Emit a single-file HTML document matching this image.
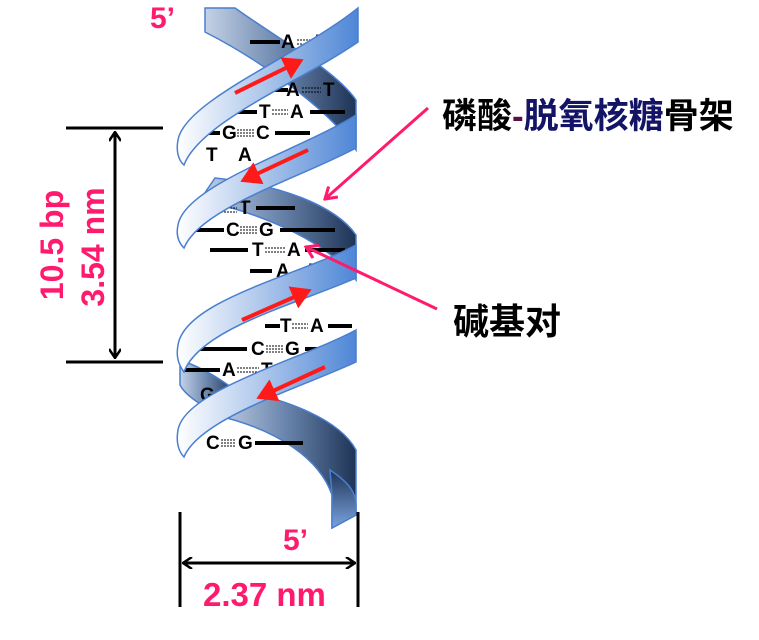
<!DOCTYPE html>
<html><head><meta charset="utf-8"><style>
html,body{margin:0;padding:0;background:#fff;width:759px;height:640px;overflow:hidden}
svg{display:block}
.b{font-family:"Liberation Sans",sans-serif;font-weight:bold;font-size:19px;fill:#000}
.p{font-family:"Liberation Sans",sans-serif;font-weight:bold;fill:#ff1a6e}
.c{font-family:"Liberation Sans","Noto Sans CJK SC",sans-serif;font-weight:bold}
</style></head><body>
<svg width="759" height="640" viewBox="0 0 759 640" xmlns="http://www.w3.org/2000/svg">
<defs>
<linearGradient id="lg" x1="0" x2="1" y1="0" y2="0">
<stop offset="0" stop-color="#ffffff"/><stop offset="0.5" stop-color="#a9c4ea"/><stop offset="1" stop-color="#4f86d6"/></linearGradient>
<linearGradient id="dg" x1="0" x2="1" y1="0" y2="0">
<stop offset="0" stop-color="#c4d2e6"/><stop offset="0.5" stop-color="#6a85ad"/><stop offset="1" stop-color="#1e3456"/></linearGradient>
<linearGradient id="tg" x1="0" x2="0" y1="0" y2="1">
<stop offset="0" stop-color="#1e3456"/><stop offset="1" stop-color="#7aa3dd"/></linearGradient>
<marker id="ra" markerWidth="6" markerHeight="6" refX="4" refY="3" orient="auto" markerUnits="strokeWidth"><path d="M0,0 L5,3 L0,6 Z" fill="#ff1a1a"/></marker>
<marker id="pa" markerWidth="14" markerHeight="16" refX="12" refY="8" orient="auto" markerUnits="userSpaceOnUse"><path d="M1,1 L12,8 L1,15" fill="none" stroke="#ff1a6e" stroke-width="3"/></marker>
<marker id="ka" markerWidth="12" markerHeight="12" refX="1" refY="6" orient="auto" markerUnits="userSpaceOnUse"><path d="M10,0 L1,6 L10,12" fill="none" stroke="#000" stroke-width="2.5"/></marker>
<marker id="kb" markerWidth="12" markerHeight="12" refX="11" refY="6" orient="auto" markerUnits="userSpaceOnUse"><path d="M2,0 L11,6 L2,12" fill="none" stroke="#000" stroke-width="2.5"/></marker>
</defs>

<!-- back (dark) bands -->
<g stroke="#4a7fcf" stroke-width="1.5">
<path d="M205,8 L235,8 C280,40 335,70 356,100 L356,150 C330,110 260,60 205,32 Z" fill="url(#dg)"/>
<path d="M215,178 C280,185 335,205 356,235 L356,280 C330,245 270,215 200,200 Z" fill="url(#dg)"/>
<path d="M180,360 C195,365 215,375 235,390 L220,415 C200,405 185,395 180,385 Z" fill="url(#dg)"/>
<path d="M230,388 C290,400 340,420 356,450 L356,515 L332,528 L332,495 C320,460 280,430 215,415 Z" fill="url(#dg)"/>
<path d="M330,470 C345,480 356,490 356,505 L356,515 L332,528 L332,495 Z" fill="url(#tg)"/>
</g>

<!-- base pairs -->
<g stroke="#000" stroke-width="4">
<line x1="250" y1="42" x2="280" y2="42"/>
<line x1="275" y1="90" x2="288" y2="90"/>
<line x1="225" y1="112" x2="257" y2="112"/><line x1="310" y1="112" x2="345" y2="112"/>
<line x1="190" y1="133" x2="220" y2="133"/><line x1="275" y1="133" x2="310" y2="133"/>
<line x1="256" y1="208" x2="295" y2="208"/>
<line x1="185" y1="230" x2="224" y2="230"/><line x1="280" y1="230" x2="335" y2="230"/>
<line x1="210" y1="250" x2="248" y2="250"/><line x1="305" y1="250" x2="345" y2="250"/>
<line x1="250" y1="271" x2="272" y2="271"/>
<line x1="265" y1="326" x2="280" y2="326"/><line x1="328" y1="326" x2="352" y2="326"/>
<line x1="200" y1="349" x2="247" y2="349"/><line x1="305" y1="349" x2="330" y2="349"/>
<line x1="185" y1="370" x2="220" y2="370"/><line x1="275" y1="370" x2="292" y2="370"/>
<line x1="255" y1="443" x2="303" y2="443"/>
</g>
<g class="b">
<text x="281" y="48">A</text><text x="316" y="48">T</text>
<text x="286" y="96">A</text><text x="323" y="96">T</text>
<text x="259" y="118">T</text><text x="290" y="118">A</text>
<text x="222" y="139">G</text><text x="256" y="139">C</text>
<text x="206" y="161">T</text><text x="238" y="161">A</text>
<text x="204" y="214">A</text><text x="239" y="214">T</text>
<text x="226" y="236">C</text><text x="259" y="236">G</text>
<text x="252" y="256">T</text><text x="287" y="256">A</text>
<text x="276" y="277">A</text><text x="309" y="277">T</text>
<text x="280" y="332">T</text><text x="310" y="332">A</text>
<text x="251" y="355">C</text><text x="285" y="355">G</text>
<text x="222" y="376">A</text><text x="261" y="376">T</text>
<text x="200" y="401">G</text><text x="238" y="401">C</text>
<text x="206" y="449">C</text><text x="238" y="449">G</text>
</g>
<g stroke="#000" stroke-width="1" stroke-dasharray="2,1">
<line x1="297" y1="40" x2="314" y2="40"/><line x1="297" y1="44" x2="314" y2="44"/>
<line x1="302" y1="88" x2="321" y2="88"/><line x1="302" y1="92" x2="321" y2="92"/>
<line x1="272" y1="110" x2="288" y2="110"/><line x1="272" y1="114" x2="288" y2="114"/>
<line x1="237" y1="130" x2="254" y2="130"/><line x1="237" y1="133" x2="254" y2="133"/><line x1="237" y1="136" x2="254" y2="136"/>
<line x1="218" y1="208" x2="237" y2="208"/><line x1="218" y1="212" x2="237" y2="212"/>
<line x1="240" y1="227" x2="257" y2="227"/><line x1="240" y1="230" x2="257" y2="230"/><line x1="240" y1="233" x2="257" y2="233"/>
<line x1="265" y1="248" x2="285" y2="248"/><line x1="265" y1="252" x2="285" y2="252"/>
<line x1="292" y1="324" x2="308" y2="324"/><line x1="292" y1="328" x2="308" y2="328"/>
<line x1="266" y1="346" x2="283" y2="346"/><line x1="266" y1="349" x2="283" y2="349"/><line x1="266" y1="352" x2="283" y2="352"/>
<line x1="237" y1="368" x2="259" y2="368"/><line x1="237" y1="372" x2="259" y2="372"/>
<line x1="221" y1="440" x2="236" y2="440"/><line x1="221" y1="443" x2="236" y2="443"/><line x1="221" y1="446" x2="236" y2="446"/>
</g>

<!-- front (light) bands -->
<g stroke="#4a7fcf" stroke-width="1.5" fill="url(#lg)">
<path d="M178,140 C185,100 300,55 358,8 L358,42 C300,82 200,122 184,165 C178,160 176,150 178,140 Z"/>
<path d="M178,225 C185,185 300,150 356,115 L356,148 C300,178 200,208 184,248 C178,242 176,234 178,225 Z"/>
<path d="M178,345 C185,300 300,275 356,245 L356,278 C300,303 200,328 184,372 C178,364 176,356 178,345 Z"/>
<path d="M178,430 C185,390 300,360 356,330 L356,362 C300,388 200,418 184,457 C178,451 176,441 178,430 Z"/>
</g>
<!-- red arrows -->
<g stroke="#ff1a1a" stroke-width="4" fill="none">
<line x1="235" y1="93" x2="300" y2="61" marker-end="url(#ra)"/>
<line x1="308" y1="150" x2="244" y2="180" marker-end="url(#ra)"/>
<line x1="242" y1="320" x2="308" y2="291" marker-end="url(#ra)"/>
<line x1="325" y1="367" x2="260" y2="397" marker-end="url(#ra)"/>
</g>

<!-- pink pointers -->
<line x1="428" y1="108" x2="325" y2="199" stroke="#ff1a6e" stroke-width="3" marker-end="url(#pa)"/>
<line x1="437" y1="309" x2="306" y2="247" stroke="#ff1a6e" stroke-width="3" marker-end="url(#pa)"/>

<!-- dimensions -->
<g stroke="#000" stroke-width="3">
<line x1="66" y1="128" x2="163" y2="128"/><line x1="66" y1="362" x2="163" y2="362"/>
<line x1="115" y1="132" x2="115" y2="358" marker-start="url(#ka)" marker-end="url(#kb)"/>
<line x1="180" y1="512" x2="180" y2="607"/><line x1="358" y1="512" x2="358" y2="607"/>
<line x1="183" y1="563" x2="355" y2="563" marker-start="url(#ka)" marker-end="url(#kb)"/>
</g>
<text class="p" font-size="32" transform="translate(63,245) rotate(-90)" text-anchor="middle">10.5 bp</text>
<text class="p" font-size="32" transform="translate(104,247) rotate(-90)" text-anchor="middle">3.54 nm</text>
<text class="p" font-size="30" x="150" y="28">5’</text>
<text class="p" font-size="30" x="283" y="550">5’</text>
<text class="p" font-size="33" x="203" y="606">2.37 nm</text>

<text class="c" font-size="35" x="442" y="128"><tspan fill="#000">磷酸</tspan><tspan fill="#5a1040">-</tspan><tspan fill="#141466">脱氧核糖</tspan><tspan fill="#000">骨架</tspan></text>
<text class="c" font-size="36" x="453" y="334" fill="#000">碱基对</text>
</svg>
</body></html>
